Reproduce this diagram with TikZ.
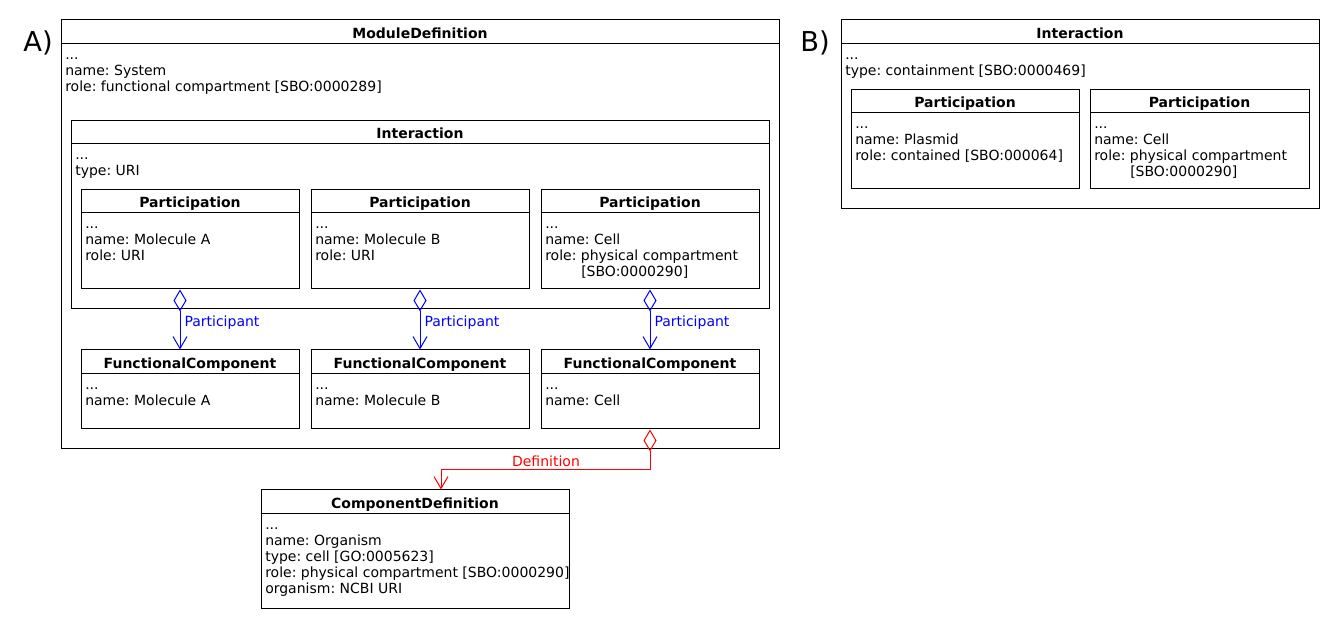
\documentclass[tikz,border=0pt]{standalone}
\usepackage{fontspec}
\setmainfont{DejaVu Sans}
\usetikzlibrary{arrows.meta,fit,calc}
\definecolor{linkblue}{RGB}{0,0,255}
\definecolor{linkred}{RGB}{255,0,0}
\frenchspacing
\newcommand\tdots{...}
\newcommand\umlbox[7]{%
  \coordinate (#1-nw) at (#2,#3);
  \coordinate (#1-se) at (#4,#5);
  \node[umlframe, fit=(#1-nw)(#1-se)] (#1) {};
  \draw[umlline] (#2,#6) -- (#4,#6);
  \node[umltitle] (#1-title) at ({(#2+#4)/2},{#6-5.5}) {#7};
}
\newcommand\umlattrs[4]{%
  \foreach \t [count=\i] in {#4}
    \node[umlattr] (#1-a\i) at (#2+4,{#3+16+(\i-1)*16}) {\t};
}
\begin{document}
\begin{tikzpicture}[x=0.75pt,y=-0.75pt,
  umlframe/.style={draw=black, line width=0.75pt, inner sep=0pt, fill=white},
  umlline/.style={line width=0.75pt},
  umltitle/.style={anchor=base, inner sep=0pt, font=\fontsize{10.5}{12}\selectfont\bfseries},
  umlattr/.style={anchor=base west, inner sep=0pt, font=\fontsize{10.5}{12}\selectfont},
  panel/.style={anchor=center, inner sep=0pt, font=\fontsize{20.5}{24}\selectfont},
  assoc/.style={line width=0.75pt, {Diamond[open,length=16.5pt,width=9.75pt]}-{Straight Barb[length=9pt,width=10.5pt]}},
  linklabel/.style={inner sep=0pt, font=\fontsize{10.5}{12}\selectfont}]
\useasboundingbox (0,0) rectangle (1340,630);

% ---------------- A ----------------
\node[panel] (labA) at (38,43) {A)};
\umlbox{md}{61}{20}{779}{449}{44}{ModuleDefinition}
\umlattrs{md}{61}{44}{{\tdots},{name: System},{role: functional compartment [SBO:0000289]}}

\umlbox{ia}{71}{121}{769}{309}{144}{Interaction}
\umlattrs{ia}{71}{144}{{\tdots},{type: URI}}

\umlbox{pa}{81}{190}{299}{289}{213}{Participation}
\umlattrs{pa}{81}{213}{{\tdots},{name: Molecule A},{role: URI}}
\umlbox{pb}{311}{190}{529}{289}{213}{Participation}
\umlattrs{pb}{311}{213}{{\tdots},{name: Molecule B},{role: URI}}
\umlbox{pc}{541}{190}{759}{289}{213}{Participation}
\umlattrs{pc}{541}{213}{{\tdots},{name: Cell},{role: physical compartment}}
\node[umlattr] (pc-a4) at (581,277) {[SBO:0000290]};

\umlbox{fa}{81}{350}{299}{429}{374}{FunctionalComponent}
\umlattrs{fa}{81}{374}{{\tdots},{name: Molecule A}}
\umlbox{fb}{311}{350}{529}{429}{374}{FunctionalComponent}
\umlattrs{fb}{311}{374}{{\tdots},{name: Molecule B}}
\umlbox{fc}{541}{350}{759}{429}{374}{FunctionalComponent}
\umlattrs{fc}{541}{374}{{\tdots},{name: Cell}}

\draw[assoc, linkblue] ([xshift=-7.5pt]pa.south) -- ([xshift=-7.5pt]fa.north)
  node[linklabel, text=linkblue, anchor=west, pos=0.55, xshift=3pt] (la) {Participant};
\draw[assoc, linkblue] (pb.south) -- (fb.north)
  node[linklabel, text=linkblue, anchor=west, pos=0.55, xshift=3pt] (lb) {Participant};
\draw[assoc, linkblue] (pc.south) -- (fc.north)
  node[linklabel, text=linkblue, anchor=west, pos=0.55, xshift=3pt] (lc) {Participant};

\umlbox{cd}{261}{490}{569}{609}{514}{ComponentDefinition}
\umlattrs{cd}{261}{514}{{\tdots},{name: Organism},{type: cell [GO:0005623]},{role: physical compartment [SBO:0000290]},{organism: NCBI URI}}

\coordinate (rbend) at (650,470);
\draw[assoc, linkred] (fc.south) -- (fc.south |- rbend) -| ([xshift=19.5pt]cd.north);
\node[linklabel, text=linkred] (ld) at (546,461) {Definition};

% ---------------- B ----------------
\node[panel] (labB) at (815,43) {B)};
\umlbox{ib}{841}{20}{1319}{209}{44}{Interaction}
\umlattrs{ib}{841}{44}{{\tdots},{type: containment [SBO:0000469]}}
\umlbox{qa}{851}{90}{1079}{189}{113}{Participation}
\umlattrs{qa}{851}{113}{{\tdots},{name: Plasmid},{role: contained [SBO:000064]}}
\umlbox{qb}{1090}{90}{1309}{189}{113}{Participation}
\umlattrs{qb}{1090}{113}{{\tdots},{name: Cell},{role: physical compartment}}
\node[umlattr] (qb-a4) at (1130,177) {[SBO:0000290]};
\end{tikzpicture}
\end{document}
